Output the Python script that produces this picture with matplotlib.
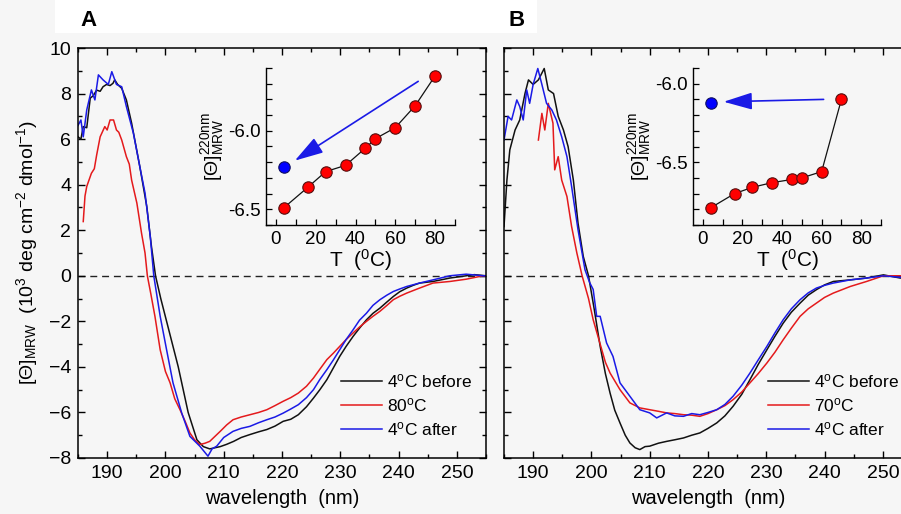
import matplotlib
matplotlib.use("Agg")
import matplotlib.pyplot as plt
from matplotlib.ticker import MultipleLocator, FormatStrFormatter
from matplotlib.patches import Rectangle

plt.rcParams['font.family'] = ['Liberation Sans', 'DejaVu Sans']
plt.rcParams['mathtext.fontset'] = 'custom'
plt.rcParams['mathtext.rm'] = 'Liberation Sans'
plt.rcParams['mathtext.it'] = 'Liberation Sans'
plt.rcParams['mathtext.bf'] = 'Liberation Sans:bold'

# ---------------- Panel A spectra ----------------
a_black_wl = [185.0, 185.5, 185.9, 186.5, 187.1, 187.6, 188.2, 188.8, 189.3, 189.9, 190.5, 191.0, 191.3, 191.8,
              192.5, 193.3, 194.2, 195.6, 196.8, 197.6, 198.3, 199.2, 200.2, 202.2, 203.9, 205.4, 206.5, 207.6,
              208.5, 209.4, 210.5, 211.7, 213.0, 214.5, 216.0, 217.4, 218.8, 220.2, 221.5, 222.8, 224.2, 225.4,
              226.5, 227.7, 228.8, 229.9, 231.0, 232.2, 233.3, 234.5, 235.6, 236.8, 238.0, 239.1, 240.2, 241.4,
              242.5, 243.6, 245.9, 248.8, 251.6, 253.0, 255.0]
a_black = [6.1, 6.0, 6.55, 6.5, 7.8, 7.9, 8.15, 8.1, 8.3, 8.4, 8.35, 8.45, 8.6, 8.4,
           8.23, 7.72, 6.7, 4.8, 3.04, 1.29, 0.0, -1.0, -2.0, -4.0, -6.0, -7.2, -7.5, -7.6,
           -7.55, -7.5, -7.4, -7.27, -7.1, -6.97, -6.85, -6.75, -6.6, -6.39, -6.3, -6.1, -5.75, -5.37,
           -5.0, -4.56, -4.05, -3.54, -3.1, -2.66, -2.3, -1.93, -1.65, -1.42, -1.15, -0.91, -0.7, -0.54,
           -0.42, -0.32, -0.25, -0.1, 0.0, 0.05, 0.0]

a_red_wl = [185.9, 186.2, 186.5, 187.3, 187.8, 188.2, 188.8, 189.6, 190.0, 190.5, 191.1, 191.6, 192.0, 192.5,
            193.3, 193.8, 194.2, 195.1, 195.9, 196.5, 196.9, 197.5, 198.2, 199.1, 200.0, 200.8, 201.6, 202.5,
            203.4, 204.2, 205.0, 205.9, 206.8, 207.6, 208.5, 209.4, 210.5, 211.6, 213.0, 214.5, 216.0, 217.4,
            218.8, 220.2, 221.5, 222.8, 224.2, 225.4, 226.5, 227.7, 228.8, 229.9, 231.0, 232.2, 233.3, 234.5,
            235.6, 236.8, 238.0, 239.1, 240.2, 241.4, 242.5, 243.6, 245.9, 248.8, 251.6, 254.5, 255.0]
a_red = [2.38, 3.5, 3.92, 4.5, 4.7, 5.3, 6.1, 6.55, 6.4, 6.84, 6.84, 6.4, 6.3, 5.96,
         5.23, 4.9, 4.2, 3.19, 1.87, 1.0, 0.0, -0.8, -1.78, -3.25, -4.2, -4.7, -5.4, -5.88,
         -6.4, -6.9, -7.2, -7.41, -7.35, -7.27, -7.05, -6.83, -6.55, -6.32, -6.2, -6.1, -6.0, -5.88,
         -5.7, -5.51, -5.35, -5.15, -4.85, -4.49, -4.1, -3.68, -3.4, -3.1, -2.8, -2.51, -2.25, -2.0,
         -1.78, -1.56, -1.3, -1.05, -0.9, -0.76, -0.65, -0.54, -0.32, -0.25, -0.15, 0.0, 0.0]

a_blue_wl = [185.0, 185.5, 185.9, 186.5, 187.3, 187.9, 188.5, 189.3, 190.2, 190.8, 191.6, 192.5, 193.3, 194.5,
             195.6, 196.5, 197.4, 198.0, 199.1, 200.2, 201.3, 202.8, 204.2, 205.9, 207.3, 208.0, 208.8, 210.0,
             211.6, 213.0, 214.5, 216.0, 217.4, 218.8, 220.2, 221.5, 222.8, 224.2, 225.4, 226.5, 227.7, 228.8,
             229.9, 231.0, 232.2, 233.3, 234.5, 235.6, 236.8, 238.0, 239.1, 240.2, 241.4, 243.6, 245.9, 248.8,
             251.6, 254.5, 255.0]
a_blue = [6.6, 6.84, 6.1, 7.28, 8.16, 7.72, 8.82, 8.6, 8.4, 8.96, 8.4, 8.3, 7.43, 6.26,
          4.8, 3.63, 1.72, 0.0, -1.78, -3.25, -4.7, -6.03, -7.05, -7.48, -7.92, -7.6, -7.48, -7.1,
          -6.83, -6.7, -6.61, -6.45, -6.32, -6.2, -6.03, -5.85, -5.66, -5.35, -5.0, -4.55, -4.12, -3.7,
          -3.25, -2.8, -2.37, -1.95, -1.64, -1.3, -1.05, -0.85, -0.69, -0.58, -0.47, -0.32, -0.18, 0.0,
          0.07, 0.0, 0.0]

# ---------------- Panel B spectra ----------------
b_black_wl = [185.0, 185.5, 186.0, 186.9, 187.7, 188.6, 189.2, 190.0, 190.9, 191.9, 192.6, 193.5, 194.3, 195.2,
              196.0, 196.9, 197.7, 198.6, 199.5, 200.5, 201.5, 202.4, 203.2, 204.0, 204.9, 205.8, 206.6, 207.5,
              208.3, 209.2, 210.0, 211.5, 212.9, 214.3, 215.8, 217.2, 218.6, 220.0, 221.5, 222.9, 224.3, 225.8,
              227.2, 228.6, 230.1, 231.5, 232.9, 234.3, 235.8, 237.2, 238.6, 240.0, 241.5, 244.4, 247.2, 250.1,
              253.0, 255.0]
b_black = [2.16, 4.2, 5.53, 6.4, 6.84, 8.0, 8.6, 8.4, 8.6, 9.1, 8.16, 8.0, 7.0, 6.4,
           5.67, 4.2, 2.31, 0.85, 0.0, -1.5, -3.1, -4.3, -5.15, -5.9, -6.46, -7.0, -7.34, -7.55,
           -7.63, -7.5, -7.48, -7.35, -7.27, -7.2, -7.12, -7.0, -6.9, -6.7, -6.46, -6.15, -5.73, -5.2,
           -4.56, -3.9, -3.25, -2.65, -2.08, -1.6, -1.2, -0.85, -0.61, -0.4, -0.25, -0.18, -0.1, 0.04,
           -0.1, -0.05]

b_red_wl = [190.9, 191.5, 192.0, 192.6, 193.4, 193.7, 194.3, 194.9, 195.8, 196.6, 197.5, 198.4, 199.5, 200.3,
            201.5, 202.4, 203.2, 204.9, 206.6, 208.3, 210.0, 211.5, 212.9, 214.3, 215.8, 217.2, 218.6, 220.0,
            221.5, 222.9, 224.3, 225.8, 227.2, 228.6, 230.1, 231.5, 232.9, 234.3, 235.8, 237.2, 238.6, 240.0,
            241.5, 244.4, 247.2, 250.1, 253.0, 255.0]
b_red = [5.96, 7.13, 6.4, 7.57, 6.7, 4.65, 5.23, 4.2, 3.48, 2.16, 1.0, 0.0, -1.0, -1.93,
         -3.0, -3.8, -4.27, -5.0, -5.58, -5.8, -5.88, -5.95, -6.02, -6.05, -6.1, -6.12, -6.17, -6.05,
         -5.88, -5.7, -5.44, -5.1, -4.7, -4.3, -3.83, -3.35, -2.81, -2.3, -1.78, -1.45, -1.2, -0.95,
         -0.76, -0.47, -0.25, 0.0, 0.0, -0.05]

b_blue_wl = [185.0, 185.7, 186.3, 187.2, 187.7, 188.3, 188.9, 189.4, 190.0, 190.8, 191.5, 192.3, 193.2, 194.0,
             194.9, 195.8, 196.6, 197.7, 198.9, 199.7, 200.3, 200.9, 201.5, 202.6, 203.7, 204.9, 206.6, 208.3,
             210.0, 211.2, 212.9, 214.3, 215.8, 217.2, 218.6, 220.0, 221.5, 222.9, 224.3, 225.8, 227.2, 228.6,
             230.1, 231.5, 232.9, 234.3, 235.8, 237.2, 238.6, 240.0, 241.5, 244.4, 247.2, 250.1, 253.0, 255.0]
b_blue = [5.96, 7.0, 6.84, 7.72, 7.43, 6.84, 8.16, 7.57, 8.4, 9.1, 8.4, 7.57, 7.28, 6.84,
          6.1, 5.23, 3.92, 2.02, 0.26, -0.3, -0.6, -1.78, -1.78, -2.95, -3.54, -4.7, -5.29, -5.88,
          -6.02, -6.24, -6.02, -6.15, -6.17, -6.05, -6.1, -6.0, -5.88, -5.65, -5.29, -4.8, -4.27, -3.7,
          -3.1, -2.5, -1.93, -1.45, -1.05, -0.75, -0.54, -0.42, -0.32, -0.18, -0.1, 0.0, -0.07, 0.0]

a_labels = ['4$^{\\mathrm{o}}$C before', '80$^{\\mathrm{o}}$C', '4$^{\\mathrm{o}}$C after']
b_labels = ['4$^{\\mathrm{o}}$C before', '70$^{\\mathrm{o}}$C', '4$^{\\mathrm{o}}$C after']

# ---------------- Insets ----------------
a_T = [4, 16, 25, 35, 45, 50, 60, 70, 80]
a_theta = [-6.49, -6.36, -6.26, -6.22, -6.11, -6.05, -5.98, -5.84, -5.65]
a_after_T = [4]
a_after = [-6.23]
a_arrow = ((71.5, -5.685), (9.5, -6.19))

b_T = [4, 16, 25, 35, 45, 50, 60, 70]
b_theta = [-6.79, -6.70, -6.66, -6.63, -6.61, -6.60, -6.56, -6.10]
b_after_T = [4]
b_after = [-6.12]
b_arrow = ((61.0, -6.10), (10.5, -6.115))

BLACK = '#111111'
RED = '#e41a1c'
BLUE = '#1a1ae6'
BG = '#f6f6f6'

fig = plt.figure(figsize=(9.01, 5.14), dpi=100, facecolor=BG)
fig.patches.append(Rectangle((55 / 901, 1 - 33 / 514), (537 - 55) / 901, 33 / 514,
                             transform=fig.transFigure, facecolor='white', edgecolor='none', zorder=0))

W, H = 901.0, 514.0


def ax_rect(l, t, r, b):
    return [l / W, 1 - b / H, (r - l) / W, (b - t) / H]


def main_axes(rect):
    ax = fig.add_axes(rect)
    ax.set_facecolor('none')
    ax.set_xlim(185, 255)
    ax.set_ylim(-8, 10)
    ax.xaxis.set_major_locator(MultipleLocator(10))
    ax.xaxis.set_minor_locator(MultipleLocator(5))
    ax.yaxis.set_major_locator(MultipleLocator(2))
    ax.yaxis.set_minor_locator(MultipleLocator(1))
    ax.tick_params(which='both', direction='in', top=True, right=True, labelsize=14, width=1.0)
    ax.tick_params(which='major', length=5, pad=5)
    ax.tick_params(which='minor', length=3)
    for s in ax.spines.values():
        s.set_linewidth(1.1)
    ax.axhline(0, color='#222222', lw=1.0, ls=(0, (5, 3.5)), zorder=1)
    ax.set_xlabel('wavelength  (nm)', fontsize=14.5, labelpad=5)
    return ax


LEG = dict(loc='upper left', frameon=False, fontsize=12.5, handlelength=2.35, handletextpad=0.3,
           labelspacing=0.36, borderpad=0, borderaxespad=0)

axA = main_axes(ax_rect(78, 48, 486, 458))
axA.plot(a_black_wl, a_black, color=BLACK, lw=1.1, label=a_labels[0])
axA.plot(a_red_wl, a_red, color=RED, lw=1.1, label=a_labels[1])
axA.plot(a_blue_wl, a_blue, color=BLUE, lw=1.1, label=a_labels[2])
axA.set_ylabel('[$\\Theta$]$_{\\mathrm{MRW}}$  (10$^{3}$ deg cm$^{-2}$ dmol$^{-1}$)', fontsize=14, labelpad=6)
axA.legend(bbox_to_anchor=(0.645, 0.21), **LEG)

axB = main_axes(ax_rect(504, 48, 912, 458))
axB.plot(b_black_wl, b_black, color=BLACK, lw=1.1, label=b_labels[0])
axB.plot(b_red_wl, b_red, color=RED, lw=1.1, label=b_labels[1])
axB.plot(b_blue_wl, b_blue, color=BLUE, lw=1.1, label=b_labels[2])
axB.tick_params(labelleft=False)
axB.legend(bbox_to_anchor=(0.648, 0.21), **LEG)

fig.text(80 / W, 1 - 20 / H, 'A', fontsize=16, fontweight='bold', va='center', ha='left')
fig.text(509 / W, 1 - 20 / H, 'B', fontsize=16, fontweight='bold', va='center', ha='left')


def inset(rect, ylim, T, th, aT, aval, arrow):
    ax = fig.add_axes(rect)
    ax.set_facecolor('none')
    ax.set_xlim(-5, 90)
    ax.set_ylim(*ylim)
    for s in ['top', 'right']:
        ax.spines[s].set_visible(False)
    for s in ['left', 'bottom']:
        ax.spines[s].set_linewidth(1.0)
    ax.xaxis.set_major_locator(MultipleLocator(20))
    ax.xaxis.set_minor_locator(MultipleLocator(10))
    ax.yaxis.set_major_locator(MultipleLocator(0.5))
    ax.yaxis.set_minor_locator(MultipleLocator(0.1))
    ax.yaxis.set_major_formatter(FormatStrFormatter('%.1f'))
    ax.tick_params(which='both', direction='in', labelsize=13.5, width=0.9)
    ax.tick_params(which='major', length=4.5, pad=4)
    ax.tick_params(which='minor', length=4.5)
    ax.plot(T, th, color=BLACK, lw=0.9, marker='o', ms=8.2, mfc='#ff0000', mec='#551010', mew=0.8)
    ax.plot(aT, aval, ls='none', marker='o', ms=8.2, mfc='#0000ff', mec='#101060', mew=0.8)
    ax.annotate('', xy=arrow[1], xytext=arrow[0],
                arrowprops=dict(arrowstyle='-|>,head_length=1.1,head_width=0.33', color=BLUE,
                                lw=1.2, mutation_scale=16, shrinkA=0, shrinkB=0))
    ax.set_xlabel('T  ($^{0}$C)', fontsize=15, labelpad=0)
    ax.set_ylabel('[$\\Theta$]$^{\\mathrm{220nm}}_{\\mathrm{MRW}}$', fontsize=14, labelpad=1)
    return ax


inset(ax_rect(266, 68, 455, 225), (-6.6, -5.6), a_T, a_theta, a_after_T, a_after, a_arrow)
inset(ax_rect(693, 68, 881, 225), (-6.9, -5.9), b_T, b_theta, b_after_T, b_after, b_arrow)

fig.savefig('out.png', dpi=100, facecolor=BG)
